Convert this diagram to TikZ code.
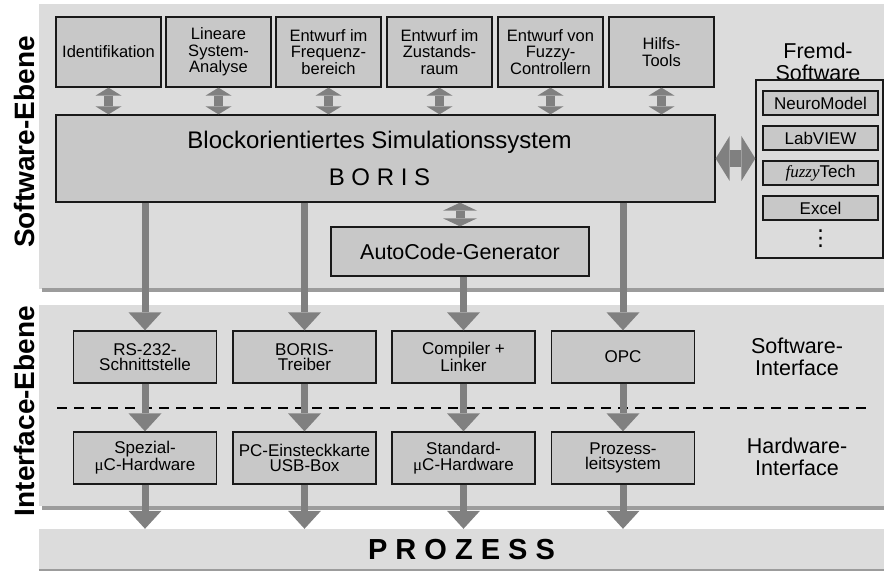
\documentclass[tikz,border=0pt]{standalone}
\usepackage{fontspec}
\setmainfont{Liberation Sans}
\newfontfamily\serifface{Liberation Serif}
\newfontfamily\symbolface{DejaVu Sans}
\usetikzlibrary{arrows.meta}

\definecolor{bglight}{HTML}{DCDCDC}
\definecolor{boxfill}{HTML}{C8C8C8}
\definecolor{arrgray}{HTML}{808080}
\definecolor{sepgray}{HTML}{9C9C9C}

\begin{document}
\begin{tikzpicture}[x=1pt, y=-1pt,
    toolbox/.style={rectangle, minimum width=105pt, minimum height=70pt, inner sep=0pt,
                    draw=black!90, line width=1.3pt, fill=boxfill, align=center,
                    font=\fontsize{16.5}{16.5}\selectfont},
    mainbox/.style={rectangle, inner sep=0pt, draw=black!90, line width=1.3pt,
                    fill=boxfill, align=center},
    ifbox/.style={rectangle, minimum width=143pt, minimum height=52pt, inner sep=0pt,
                  draw=black!90, line width=1.3pt, fill=boxfill, align=center,
                  font=\fontsize{17}{15.5}\selectfont},
    extbox/.style={rectangle, minimum width=115pt, minimum height=24pt, inner sep=0pt,
                   draw=black!90, line width=1.1pt, fill=boxfill, align=center,
                   font=\fontsize{17}{17}\selectfont},
    sidelabel/.style={rotate=90, font=\fontsize{28}{28}\selectfont\bfseries},
    layerlabel/.style={align=center, font=\fontsize{21.5}{21.7}\selectfont},
    sepline/.style={draw=sepgray, line width=4pt},
    sepdash/.style={draw=black, line width=1.8pt, dash pattern=on 10pt off 7pt},
    dblarr/.style={draw=arrgray, line width=9pt,
                   {Triangle[width=26pt, length=8pt, line width=0pt]}-{Triangle[width=26pt, length=8pt, line width=0pt]}},
    midarr/.style={draw=arrgray, line width=9pt,
                   {Triangle[width=34pt, length=8pt, line width=0pt]}-{Triangle[width=34pt, length=8pt, line width=0pt]}},
    bigarr/.style={draw=arrgray, line width=17pt,
                   {Triangle[width=45pt, length=14pt, line width=0pt]}-{Triangle[width=45pt, length=14pt, line width=0pt]}},
    downarr/.style={draw=arrgray, line width=7pt,
                    -{Triangle[width=33pt, length=18pt, line width=0pt]}}
]
\useasboundingbox (0,0) rectangle (884,572);

%% Layer backgrounds %%
\fill[bglight] (39,4) rectangle (884,289);
\draw[sepline] (42,290.5) -- (884,290.5);
\fill[bglight] (39,305) rectangle (884,506);
\draw[sepline] (42,507.5) -- (884,507.5);

\node[sidelabel] (swlevel) at (24,142) {Software-Ebene};
\node[sidelabel] (iflevel) at (24,411) {Interface-Ebene};

%% Software-Ebene %%

% Tool boxes along the top
\node[toolbox] (ident)  at (108.5,52) {Identifikation};
\node[toolbox] (linsys) at (218.5,52) {Lineare\\System-\\Analyse};
\node[toolbox] (freq)   at (328.5,52) {Entwurf im\\Frequenz-\\bereich};
\node[toolbox] (state)  at (439.5,52) {Entwurf im\\Zustands-\\raum};
\node[toolbox] (fuzzy)  at (550.5,52) {Entwurf von\\Fuzzy-\\Controllern};
\node[toolbox] (hilfs)  at (661.5,52) {Hilfs-\\Tools};

% Simulation system and code generator
\node[mainbox, minimum width=659pt, minimum height=87pt,
      font=\fontsize{24}{37}\selectfont] (boris) at (385.5,158.5)
      {Blockorientiertes Simulationssystem\hspace*{12pt}\\B O R I S\hspace*{12pt}};
\node[mainbox, minimum width=258pt, minimum height=49pt,
      font=\fontsize{21.5}{21.5}\selectfont] (autocode) at (460,251.5) {AutoCode-Generator};

% Third-party software
\node[layerlabel] (fremdtitle) at (818,62) {Fremd-\\Software};
\node[rectangle, minimum width=127pt, minimum height=178pt, inner sep=0pt,
      draw=black!90, line width=1.3pt, fill=bglight] (fremd) at (819.5,169) {};
\node[extbox] (neuro) at (820.5,103) {NeuroModel};
\node[extbox] (labv)  at (820.5,138) {LabVIEW};
\node[extbox] (ftech) at (820.5,173) {{\serifface\itshape fuzzy}Tech};
\node[extbox] (excel) at (820.5,208) {Excel};
\node[inner sep=0pt, font=\fontsize{22}{22}\selectfont\symbolface] (more) at (820.5,239) {⋮};

%% Interface-Ebene %%

% Software interface
\node[ifbox] (rs)       at (145,357)   {RS-232-\\Schnittstelle};
\node[ifbox] (treiber)  at (304.5,357) {BORIS-\\Treiber};
\node[ifbox] (compiler) at (463.5,357) {Compiler +\\Linker};
\node[ifbox] (opc)      at (623,357)   {OPC};
\node[layerlabel] (swif) at (797,357) {Software-\\Interface};

% Hardware interface
\node[ifbox] (spezial) at (145,458)   {Spezial-\\{\serifface μ}C-Hardware};
\node[ifbox] (pcard)   at (304.5,458) {PC-Einsteckkarte\\USB-Box};
\node[ifbox] (stdhw)   at (463.5,458) {Standard-\\{\serifface μ}C-Hardware};
\node[ifbox] (pls)     at (623,458)   {Prozess-\\leitsystem};
\node[layerlabel] (hwif) at (797,457) {Hardware-\\Interface};

%% Prozess %%
\node[rectangle, minimum width=845pt, minimum height=41pt, inner sep=0pt, fill=bglight,
      font=\fontsize{29}{29}\selectfont\bfseries] (proc) at (461.5,549.5) {P R O Z E S S};
\draw[draw=sepgray, line width=2pt] (proc.south west) -- (proc.south east);

%% Arrows %%

\coordinate (dashl) at (57,408);
\coordinate (dashr) at (873,408);
\draw[sepdash] (dashl) -- (dashr);

% Tools <-> BORIS
\foreach \t in {ident,linsys,freq,state,fuzzy,hilfs}
  \draw[dblarr] (\t.south) -- (\t.south |- boris.north);

% BORIS <-> AutoCode, BORIS <-> Fremd-Software
\draw[midarr] (boris.south -| autocode.north) -- (autocode.north);
\draw[bigarr] (boris.east) -- (boris.east -| fremd.west);

% BORIS -> Software-Interface
\foreach \t in {rs,treiber,opc}
  \draw[downarr] (boris.south -| \t.north) -- (\t.north);
\draw[downarr] (autocode.south -| compiler.north) -- (compiler.north);

% Software-Interface -> Hardware-Interface
\foreach \a/\b in {rs/spezial,treiber/pcard,compiler/stdhw,opc/pls}
  \draw[downarr] (\a.south) -- (\b.north);

% Hardware-Interface -> Prozess
\foreach \t in {spezial,pcard,stdhw,pls}
  \draw[downarr] (\t.south) -- (\t.south |- proc.north);

\end{tikzpicture}
\end{document}
